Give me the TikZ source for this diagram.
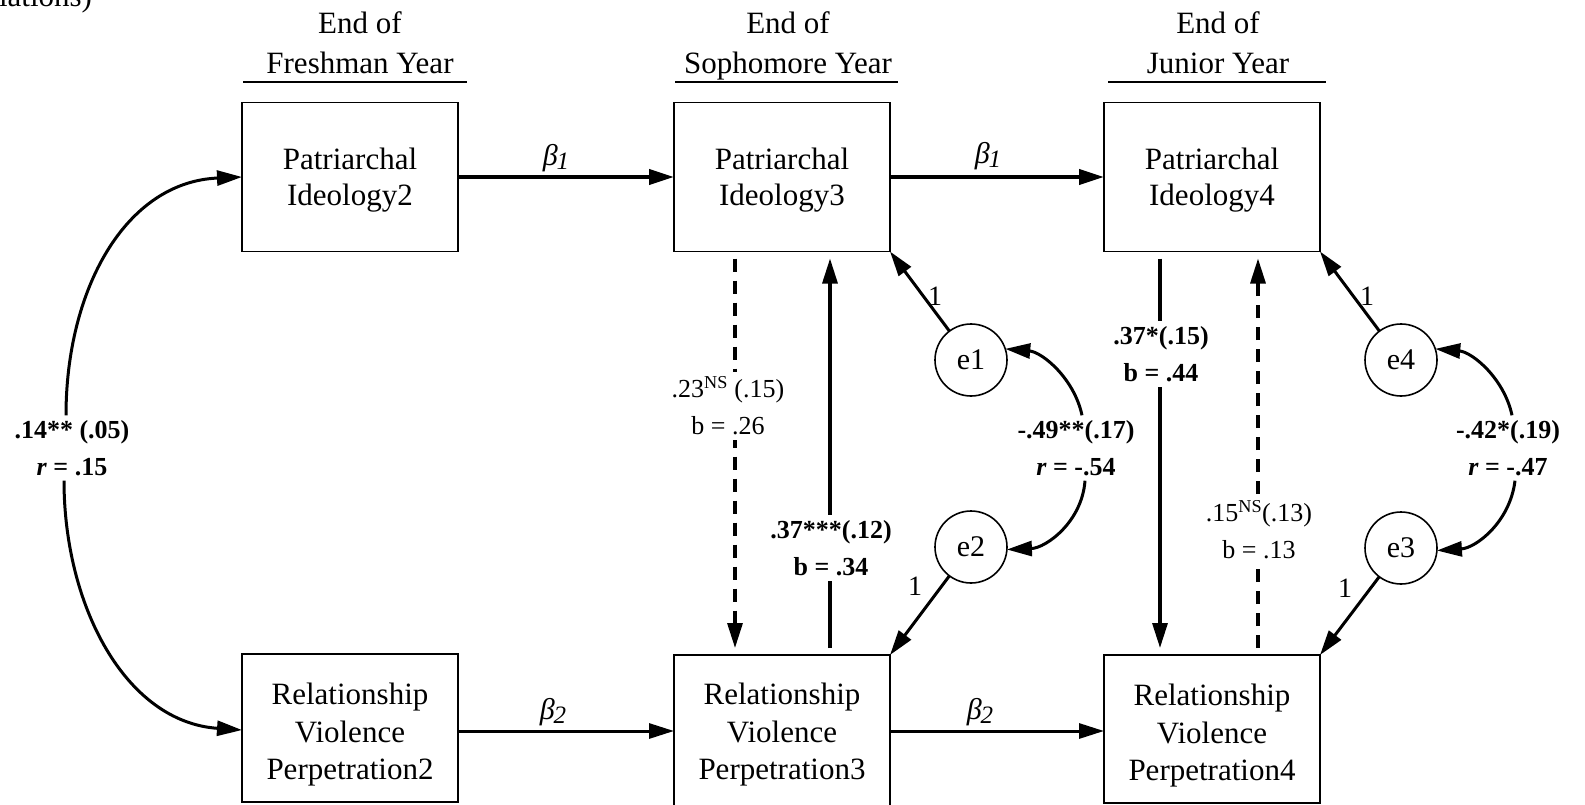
\documentclass[tikz,border=0pt]{standalone}
\usepackage{fontspec}
\setmainfont{Liberation Serif}
\usetikzlibrary{arrows.meta,calc}
\begin{document}
\begin{tikzpicture}[x=1pt,y=-1pt,
  every node/.style={inner sep=0pt, outer sep=0pt},
  box/.style={draw, line width=1.9pt, minimum width=216pt},
  topbox/.style={box, minimum height=149pt},
  botbox/.style={box, minimum height=148pt},
  toptext/.style={align=center, font=\fontsize{31}{35.5}\selectfont},
  bottext/.style={align=center, font=\fontsize{31}{37.5}\selectfont},
  err/.style={draw, circle, line width=1.6pt, minimum size=72pt, font=\fontsize{30}{36}\selectfont},
  tipped/.style={-{Triangle[length=25pt,width=15pt]}},
  arr/.style={tipped, line width=3pt},
  dsh/.style={arr, line width=3.2pt, dash pattern=on 13pt off 9pt},
  gap/.style={shorten <=7pt, shorten >=7pt},
  est/.style={align=center, fill=white, inner sep=5pt, font=\bfseries\fontsize{26}{37}\selectfont},
  estn/.style={est, font=\fontsize{26}{37}\selectfont},
  head/.style={align=center, font=\fontsize{31}{40}\selectfont},
  coef/.style={font=\itshape\fontsize{30}{36}\selectfont},
  one/.style={font=\fontsize{28}{30}\selectfont},
  rule/.style={line width=1.6pt},
]
\useasboundingbox (0,0) rectangle (1585,805);
\fill[white] (0,0) rectangle (1585,805);

% caption tail at the top edge
\node[font=\fontsize{31}{36}\selectfont, anchor=base east] (capt) at (92,7) {relations)};

% column headings
\node[head] (H1) at (360,43) {End of\\Freshman Year};
\node[head] (H2) at (788,46) {End of\\Sophomore Year};
\node[head] (H3) at (1218,43) {End of\\Junior Year};
\draw[rule] (243,82) -- (467,82);
\draw[rule] (675,82) -- (898,82);
\draw[rule] (1108,82) -- (1326,82);

% observed variables
\node[topbox, label={[toptext, yshift=-3pt]center:Patriarchal\\Ideology2}] (PI2) at (350,177) {};
\node[topbox, label={[toptext, yshift=-3pt]center:Patriarchal\\Ideology3}] (PI3) at (782,177) {};
\node[topbox, label={[toptext, yshift=-3pt]center:Patriarchal\\Ideology4}] (PI4) at (1212,177) {};
\node[botbox, label={[bottext, yshift=-7pt]center:Relationship\\Violence\\Perpetration2}] (RVP2) at (350,728) {};
\node[botbox, minimum height=156pt, label={[bottext, yshift=-2pt]center:Relationship\\Violence\\Perpetration3}] (RVP3) at (782,733) {};
\node[botbox, label={[bottext, yshift=-7pt]center:Relationship\\Violence\\Perpetration4}] (RVP4) at (1212,729) {};

% residuals
\node[err] (e1) at (971,360) {e1};
\node[err] (e2) at (971,547) {e2};
\node[err] (e4) at (1401,360) {e4};
\node[err] (e3) at (1401,548) {e3};

% stability paths
\draw[arr, line width=4.2pt] (PI2.east) -- (PI3.west);
\draw[arr, line width=4.2pt] (PI3.east) -- (PI4.west);
\draw[arr] (RVP2.east |- 0,731) -- (RVP3.west |- 0,731);
\draw[arr] (RVP3.east |- 0,731) -- (RVP4.west |- 0,731);
\node[coef] (b1a) at (556,158) {β\kern-1pt\raisebox{-4pt}{\fontsize{25}{25}\selectfont 1}};
\node[coef] (b1b) at (988,156) {β\kern-1pt\raisebox{-4pt}{\fontsize{25}{25}\selectfont 1}};
\node[coef] (b2a) at (553,712) {β\kern-1pt\raisebox{-4pt}{\fontsize{25}{25}\selectfont 2}};
\node[coef] (b2b) at (980,712) {β\kern-1pt\raisebox{-4pt}{\fontsize{25}{25}\selectfont 2}};

% cross-lagged paths
\draw[dsh, gap] ([xshift=-47pt]PI3.south) -- ([xshift=-47pt]RVP3.north);
\draw[arr, line width=3.2pt, gap] ([xshift=48pt]RVP3.north) -- ([xshift=48pt]PI3.south);
\draw[arr, line width=3.2pt, gap] ([xshift=-52pt]PI4.south) -- ([xshift=-52pt]RVP4.north);
\draw[dsh, gap] ([xshift=46pt]RVP4.north) -- ([xshift=46pt]PI4.south);
\node[estn] (L1) at (728,406) {.23\textsuperscript{NS} (.15)\\b = .26};
\node[est] (L2) at (831,548) {.37***(.12)\\b = .34};
\node[est] (L3) at (1161,354) {.37*(.15)\\b = .44};
\node[estn] (L4) at (1259,530) {.15\textsuperscript{NS}(.13)\\b = .13};

% residual loadings
\draw[arr] (e1) -- (PI3.south east);
\draw[arr] (e2) -- (RVP3.north east);
\draw[arr] (e4) -- (PI4.south east);
\draw[arr] (e3) -- (RVP4.north east);
\node[one] (o1) at (935,296) {1};
\node[one] (o2) at (915,586) {1};
\node[one] (o4) at (1367,296) {1};
\node[one] (o3) at (1345,588) {1};

% covariances
\node[est, fill=none] (C0) at (72,448) {.14** (.05)\\\textit{r} = .15};
\draw[arr] ([xshift=-6pt]C0.north) .. controls (66,290) and (125,182) .. (PI2.west);
\draw[arr] ([xshift=-8pt]C0.south) .. controls (64,605) and (125,722) .. (RVP2.west |- 0,730);

\node[est, fill=none] (C12) at (1076,448) {-.49**(.17)\\\textit{r} = -.54};
\draw[arr] ([xshift=6pt]C12.north) .. controls (1074,378) and (1042,352) .. (e1.18);
\draw[arr] ([xshift=9pt]C12.south) .. controls (1082,522) and (1046,548) .. (e2.-4);

\node[est, fill=none] (C34) at (1508,448) {-.42*(.19)\\\textit{r} = -.47};
\draw[arr] ([xshift=4pt]C34.north) .. controls (1504,378) and (1472,352) .. (e4.18);
\draw[arr] ([xshift=7pt]C34.south) .. controls (1510,522) and (1476,548) .. (e3.-4);
\end{tikzpicture}
\end{document}
